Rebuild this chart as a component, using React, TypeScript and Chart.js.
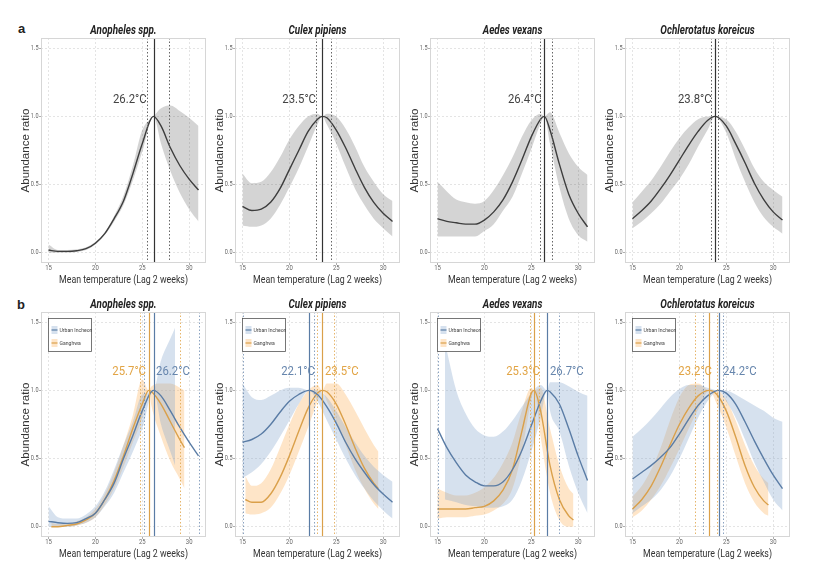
import { useEffect, useRef } from "react";
import { Chart, registerables } from "chart.js";
Chart.register(...registerables);

const COND = "Roboto, 'Liberation Sans', sans-serif";
const SANS = "'Liberation Sans', Arial, sans-serif";

const X_MIN = 14.2;
const X_MAX = 31.8;
const Y_MIN = -0.075;
const Y_MAX = 1.575;
const xTickValues = [15, 20, 25, 30];
const yTickValues = [0, 0.5, 1, 1.5];
const speciesNames = ["Anopheles spp.", "Culex pipiens", "Aedes vexans", "Ochlerotatus koreicus"];
const regionNames = ["Urban Incheon", "Ganghwa"];
const xTitle = "Mean temperature (Lag 2 weeks)";
const yTitle = "Abundance ratio";

// ---------- Row a: all sites ----------
const anoAllT = [15, 16, 17, 18, 19, 20, 21, 22, 23, 24, 25, 26.2, 27, 28, 29, 30, 31];
const anoAllMean = [0.02, 0.01, 0.01, 0.015, 0.03, 0.07, 0.14, 0.25, 0.38, 0.58, 0.8, 1.0, 0.93, 0.77, 0.64, 0.54, 0.46];
const anoAllUpper = [0.06, 0.02, 0.02, 0.025, 0.04, 0.08, 0.15, 0.27, 0.42, 0.64, 0.9, 1.0, 1.06, 1.08, 1.04, 0.99, 0.93];
const anoAllLower = [0.0, 0.0, 0.0, 0.005, 0.02, 0.06, 0.13, 0.23, 0.35, 0.53, 0.74, 1.0, 0.8, 0.6, 0.44, 0.32, 0.23];

const culAllT = [15, 16, 17, 18, 19, 20, 21, 22, 23, 23.5, 24, 25, 26, 27, 28, 29, 30, 31];
const culAllMean = [0.34, 0.31, 0.32, 0.37, 0.47, 0.61, 0.75, 0.89, 0.98, 1.0, 0.99, 0.9, 0.77, 0.62, 0.48, 0.37, 0.29, 0.23];
const culAllUpper = [0.58, 0.51, 0.52, 0.59, 0.7, 0.83, 0.93, 1.0, 1.02, 1.0, 1.02, 1.0, 0.91, 0.78, 0.63, 0.52, 0.43, 0.38];
const culAllLower = [0.2, 0.19, 0.2, 0.25, 0.35, 0.48, 0.62, 0.78, 0.94, 1.0, 0.94, 0.8, 0.63, 0.47, 0.35, 0.25, 0.18, 0.12];

const aedAllT = [15, 16, 17, 18, 19, 20, 21, 22, 23, 24, 25, 26, 26.4, 27, 28, 29, 30, 31];
const aedAllMean = [0.25, 0.23, 0.22, 0.21, 0.21, 0.24, 0.3, 0.39, 0.52, 0.68, 0.85, 0.98, 1.0, 0.9, 0.65, 0.43, 0.29, 0.19];
const aedAllUpper = [0.52, 0.45, 0.39, 0.37, 0.36, 0.38, 0.46, 0.57, 0.7, 0.85, 0.97, 1.02, 1.0, 1.03, 0.88, 0.73, 0.63, 0.57];
const aedAllLower = [0.12, 0.12, 0.12, 0.12, 0.12, 0.16, 0.21, 0.31, 0.41, 0.58, 0.76, 0.95, 1.0, 0.8, 0.48, 0.25, 0.13, 0.08];

const ochAllT = [15, 16, 17, 18, 19, 20, 21, 22, 23, 23.8, 25, 26, 27, 28, 29, 30, 31];
const ochAllMean = [0.25, 0.31, 0.38, 0.47, 0.57, 0.68, 0.79, 0.89, 0.97, 1.0, 0.93, 0.8, 0.66, 0.51, 0.39, 0.3, 0.24];
const ochAllUpper = [0.37, 0.45, 0.53, 0.63, 0.74, 0.84, 0.92, 0.98, 1.0, 1.0, 0.98, 0.89, 0.76, 0.62, 0.52, 0.46, 0.41];
const ochAllLower = [0.18, 0.23, 0.29, 0.36, 0.45, 0.54, 0.65, 0.78, 0.9, 1.0, 0.88, 0.69, 0.52, 0.37, 0.26, 0.19, 0.14];

const allOptimum = [26.2, 23.5, 26.4, 23.8];
const allCI = [[25.5, 27.8], [22.8, 24.4], [25.9, 27.2], [23.4, 24.1]];
const allLabelEdge = [25.47, 22.84, 26.11, 23.45];

// ---------- Row b: Urban Incheon ----------
const anoUrbT = [15, 16, 17, 18, 19, 20, 21, 22, 23, 24, 25, 26.2, 27, 28, 29, 30, 31];
const anoUrbMean = [0.04, 0.03, 0.025, 0.03, 0.06, 0.1, 0.2, 0.32, 0.5, 0.67, 0.85, 1.0, 0.96, 0.85, 0.73, 0.62, 0.52];
const anoUrbBandT = [15, 16, 17, 18, 19, 20, 21, 22, 23, 24, 25, 26.2, 27, 28, 28.5];
const anoUrbUpper = [0.15, 0.07, 0.06, 0.06, 0.09, 0.15, 0.26, 0.42, 0.6, 0.77, 0.97, 1.0, 1.22, 1.38, 1.46];
const anoUrbLower = [0.0, 0.0, 0.0, 0.01, 0.03, 0.07, 0.15, 0.25, 0.4, 0.55, 0.72, 1.0, 0.75, 0.55, 0.45];

const culUrbT = [15, 16, 17, 18, 19, 20, 21, 22.1, 23, 24, 25, 26, 27, 28, 29, 30, 31];
const culUrbMean = [0.62, 0.64, 0.68, 0.75, 0.84, 0.92, 0.97, 1.0, 0.97, 0.88, 0.76, 0.62, 0.5, 0.4, 0.31, 0.24, 0.18];
const culUrbUpper = [1.05, 0.95, 0.93, 0.96, 1.0, 1.02, 1.02, 1.0, 1.0, 0.95, 0.85, 0.73, 0.62, 0.52, 0.44, 0.38, 0.33];
const culUrbLower = [0.36, 0.4, 0.46, 0.55, 0.66, 0.78, 0.9, 1.0, 0.92, 0.78, 0.64, 0.5, 0.38, 0.28, 0.19, 0.12, 0.06];

const aedUrbT = [15, 16, 17, 18, 19, 20, 21, 22, 23, 24, 25, 26, 26.7, 27, 28, 29, 30, 31];
const aedUrbMean = [0.72, 0.58, 0.47, 0.38, 0.33, 0.3, 0.3, 0.33, 0.42, 0.56, 0.74, 0.92, 1.0, 0.99, 0.9, 0.72, 0.52, 0.34];
const aedUrbBandT = [15.8, 17, 18, 19, 20, 21, 22, 23, 24, 25, 26, 26.7, 27, 28, 29, 30, 31];
const aedUrbUpper = [1.35, 1.0, 0.83, 0.72, 0.67, 0.66, 0.7, 0.78, 0.88, 0.98, 1.04, 1.0, 1.06, 1.06, 1.03, 0.99, 0.96];
const aedUrbLower = [0.2, 0.18, 0.16, 0.15, 0.14, 0.14, 0.15, 0.2, 0.34, 0.55, 0.8, 1.0, 0.85, 0.7, 0.45, 0.25, 0.1];

const ochUrbT = [15, 16, 17, 18, 19, 20, 21, 22, 23, 24.2, 25, 26, 27, 28, 29, 30, 31];
const ochUrbMean = [0.35, 0.4, 0.45, 0.51, 0.58, 0.68, 0.79, 0.89, 0.96, 1.0, 0.98, 0.9, 0.77, 0.63, 0.5, 0.38, 0.28];
const ochUrbUpper = [0.66, 0.72, 0.79, 0.87, 0.95, 1.01, 1.04, 1.04, 1.02, 1.0, 1.0, 0.97, 0.93, 0.89, 0.85, 0.8, 0.77];
const ochUrbLower = [0.1, 0.15, 0.2, 0.27, 0.37, 0.5, 0.65, 0.8, 0.92, 1.0, 0.92, 0.8, 0.64, 0.47, 0.33, 0.2, 0.12];

// ---------- Row b: Ganghwa ----------
const anoGanT = [15.3, 16, 17, 18, 19, 20, 21, 22, 23, 24, 25, 25.7, 26, 27, 28, 29, 29.5];
const anoGanMean = [0.0, 0.0, 0.01, 0.02, 0.05, 0.1, 0.2, 0.34, 0.52, 0.72, 0.9, 1.0, 0.99, 0.9, 0.77, 0.64, 0.58];
const anoGanUpper = [0.03, 0.02, 0.02, 0.04, 0.07, 0.13, 0.24, 0.4, 0.6, 0.82, 1.08, 1.0, 1.03, 1.05, 1.05, 1.02, 1.0];
const anoGanLower = [0.0, 0.0, 0.0, 0.01, 0.03, 0.07, 0.16, 0.28, 0.44, 0.62, 0.8, 1.0, 0.88, 0.66, 0.48, 0.35, 0.28];

const culGanT = [15.3, 16, 17, 18, 19, 20, 21, 22, 23, 23.5, 24, 25, 26, 27, 28, 29, 29.5];
const culGanMean = [0.2, 0.18, 0.18, 0.24, 0.36, 0.52, 0.7, 0.87, 0.98, 1.0, 0.99, 0.9, 0.75, 0.58, 0.43, 0.32, 0.28];
const culGanUpper = [0.37, 0.3, 0.32, 0.42, 0.58, 0.75, 0.9, 1.0, 1.04, 1.0, 1.05, 1.05, 0.97, 0.85, 0.72, 0.6, 0.55];
const culGanLower = [0.1, 0.09, 0.1, 0.14, 0.24, 0.38, 0.55, 0.73, 0.92, 1.0, 0.92, 0.78, 0.6, 0.42, 0.28, 0.17, 0.13];

const aedGanT = [15, 16, 17, 18, 19, 20, 21, 22, 23, 24, 25, 25.3, 26, 27, 28, 29, 29.5];
const aedGanMean = [0.13, 0.13, 0.13, 0.13, 0.14, 0.15, 0.19, 0.27, 0.42, 0.7, 0.98, 1.0, 0.85, 0.45, 0.2, 0.08, 0.05];
const aedGanUpper = [0.28, 0.25, 0.23, 0.23, 0.25, 0.29, 0.36, 0.47, 0.62, 0.85, 1.02, 1.0, 1.02, 0.72, 0.45, 0.28, 0.24];
const aedGanLower = [0.06, 0.07, 0.07, 0.07, 0.08, 0.09, 0.12, 0.17, 0.28, 0.55, 0.93, 1.0, 0.66, 0.25, 0.05, 0.0, 0.0];

const ochGanT = [15, 16, 17, 18, 19, 20, 21, 22, 23.2, 24, 25, 26, 27, 28, 29, 29.5];
const ochGanMean = [0.13, 0.2, 0.3, 0.44, 0.6, 0.75, 0.87, 0.96, 1.0, 0.97, 0.85, 0.66, 0.45, 0.29, 0.19, 0.16];
const ochGanUpper = [0.22, 0.3, 0.42, 0.58, 0.78, 0.95, 1.04, 1.05, 1.0, 1.0, 0.93, 0.78, 0.6, 0.45, 0.35, 0.32];
const ochGanLower = [0.07, 0.12, 0.2, 0.3, 0.43, 0.57, 0.72, 0.86, 1.0, 0.9, 0.73, 0.52, 0.32, 0.18, 0.1, 0.08];

const urbanOptimum = [26.2, 22.1, 26.7, 24.2];
const ganghwaOptimum = [25.7, 23.5, 25.3, 23.2];
const urbanCI = [[25.2, 31.0], [15.0, 22.6], [15.0, 28.0], [22.5, 24.6]];
const ganghwaCI = [[24.8, 29.0], [22.9, 24.8], [24.85, 25.8], [21.7, 24.0]];
const bLeftLabelEdge = [25.4, 22.73, 25.93, 23.48];
const bRightLabelEdge = [26.47, 23.8, 27.0, 24.65];

// ---------- styling ----------
const GREY_LINE = "#3d3d3d";
const GREY_FILL = "rgba(0,0,0,0.17)";
const BLUE_LINE = "#5a7ca5";
const BLUE_FILL = "rgba(134,167,204,0.34)";
const BLUE_TEXT = "#6786ad";
const BLUE_DOT = "rgba(100,132,172,0.75)";
const ORANGE_LINE = "#daa04a";
const ORANGE_FILL = "rgba(252,180,95,0.34)";
const ORANGE_TEXT = "#e2a546";
const ORANGE_DOT = "rgba(226,168,80,0.85)";

const plotLefts = [41, 235, 430, 625];
const rowTops = [0, 274];
const CANVAS_W = 196;
const CANVAS_H = 290;
const Y_AXIS_W = 30;
const X_AXIS_H = 27;

type Curve = {
  t: number[];
  mean: number[];
  bandT: number[];
  upper: number[];
  lower: number[];
  line: string;
  fill: string;
  name: string;
};
type VLine = { x: number; color: string; dotted: boolean };
type TLabel = { text: string; x: number; y: number; align: "left" | "right"; color: string };
type PanelSpec = {
  left: number;
  top: number;
  title: string;
  curves: Curve[];
  vlines: VLine[];
  labels: TLabel[];
  legend: boolean;
};

const pts = (t: number[], v: number[]) => t.map((x, i) => ({ x, y: v[i] }));
const tempLabel = (v: number) => `${v.toFixed(1)}°C`;

function drawText(
  ctx: CanvasRenderingContext2D,
  text: string,
  x: number,
  y: number,
  font: string,
  color: string,
  align: CanvasTextAlign,
  sx = 1,
  rot = 0
) {
  ctx.save();
  ctx.translate(x, y);
  if (rot) ctx.rotate(rot);
  ctx.scale(sx, 1);
  ctx.font = font;
  ctx.fillStyle = color;
  ctx.textAlign = align;
  ctx.textBaseline = "middle";
  ctx.fillText(text, 0, 0);
  ctx.restore();
}

function Panel({ spec }: { spec: PanelSpec }) {
  const ref = useRef<HTMLCanvasElement | null>(null);
  useEffect(() => {
    const canvas = ref.current;
    if (!canvas) return;
    const datasets: any[] = [];
    spec.curves.forEach((c) => {
      datasets.push({
        data: pts(c.bandT, c.upper),
        borderWidth: 0,
        borderColor: "rgba(0,0,0,0)",
        backgroundColor: c.fill,
        pointRadius: 0,
        fill: "+1",
        cubicInterpolationMode: "monotone",
        order: 3,
      });
      datasets.push({
        data: pts(c.bandT, c.lower),
        borderWidth: 0,
        borderColor: "rgba(0,0,0,0)",
        backgroundColor: "rgba(0,0,0,0)",
        pointRadius: 0,
        fill: false,
        cubicInterpolationMode: "monotone",
        order: 3,
      });
    });
    spec.curves.forEach((c) => {
      datasets.push({
        data: pts(c.t, c.mean),
        borderColor: c.line,
        borderWidth: 1.4,
        pointRadius: 0,
        fill: false,
        cubicInterpolationMode: "monotone",
        order: 1,
      });
    });

    const deco = {
      id: "deco",
      afterDatasetsDraw(chart: any) {
        const { ctx, chartArea: a, scales } = chart;
        const xs = scales.x;
        const ys = scales.y;
        ctx.save();
        ctx.beginPath();
        ctx.rect(a.left, a.top, a.right - a.left, a.bottom - a.top);
        ctx.clip();
        spec.vlines.forEach((v) => {
          const px = Math.round(xs.getPixelForValue(v.x)) + 0.5;
          ctx.beginPath();
          ctx.strokeStyle = v.color;
          ctx.lineWidth = v.dotted ? 1 : 1.2;
          ctx.setLineDash(v.dotted ? [1.5, 2] : []);
          ctx.moveTo(px, a.top);
          ctx.lineTo(px, a.bottom);
          ctx.stroke();
        });
        ctx.restore();

        ctx.save();
        ctx.strokeStyle = "#d6d6d6";
        ctx.lineWidth = 1;
        ctx.strokeRect(a.left + 0.5, a.top + 0.5, a.right - a.left - 1, a.bottom - a.top - 1);
        ctx.restore();

        spec.labels.forEach((l) => {
          drawText(ctx, l.text, xs.getPixelForValue(l.x), ys.getPixelForValue(l.y), `13.5px ${COND}`, l.color, l.align, 0.84);
        });

        if (spec.legend) {
          ctx.save();
          const bx = a.left + 7.5;
          const by = a.top + 6.5;
          const bw = 43;
          const bh = 33;
          ctx.fillStyle = "#ffffff";
          ctx.fillRect(bx, by, bw, bh);
          ctx.strokeStyle = "#555";
          ctx.lineWidth = 0.8;
          ctx.strokeRect(bx, by, bw, bh);
          spec.curves.forEach((c, i) => {
            const cy = by + 11.5 + i * 13;
            ctx.fillStyle = c.fill;
            ctx.fillRect(bx + 3, cy - 4, 6, 8);
            ctx.strokeStyle = c.line;
            ctx.lineWidth = 1.2;
            ctx.beginPath();
            ctx.moveTo(bx + 3, cy);
            ctx.lineTo(bx + 9, cy);
            ctx.stroke();
            drawText(ctx, c.name, bx + 11, cy, `6px ${COND}`, "#444", "left", 0.85);
          });
          ctx.restore();
        }
      },
      afterDraw(chart: any) {
        const { ctx, chartArea: a, scales } = chart;
        const xs = scales.x;
        const ys = scales.y;
        const cx = (a.left + a.right) / 2;
        drawText(ctx, spec.title, cx, a.top - 7, `italic bold 12px ${COND}`, "#222", "center", 0.82);
        xTickValues.forEach((v) => {
          drawText(ctx, String(v), xs.getPixelForValue(v), a.bottom + 5.5, `7px ${COND}`, "#666", "center", 0.85);
        });
        yTickValues.forEach((v) => {
          drawText(ctx, v.toFixed(1), a.left - 2.5, ys.getPixelForValue(v), `6.5px ${COND}`, "#666", "right", 0.85);
        });
        drawText(ctx, xTitle, cx, a.bottom + 17, `11px ${COND}`, "#333", "center", 0.8);
        drawText(ctx, yTitle, a.left - 15.5, (a.top + a.bottom) / 2, `11.5px ${SANS}`, "#333", "center", 1, -Math.PI / 2);
      },
    };

    const chart = new Chart(canvas, {
      type: "line",
      data: { datasets },
      options: {
        animation: false,
        responsive: false,
        devicePixelRatio: 1,
        layout: { padding: { left: 0, right: CANVAS_W - Y_AXIS_W - 165, top: 38, bottom: 0 } },
        plugins: {
          legend: { display: false },
          tooltip: { enabled: false },
          title: { display: false },
          filler: { drawTime: "beforeDatasetsDraw" },
        },
        scales: {
          x: {
            type: "linear",
            min: X_MIN,
            max: X_MAX,
            afterBuildTicks: (s: any) => {
              s.ticks = xTickValues.map((v) => ({ value: v }));
            },
            afterFit: (s: any) => {
              s.height = X_AXIS_H;
            },
            ticks: { display: false },
            grid: { color: "#dddddd", lineWidth: 0.8, tickLength: 2, tickColor: "#999" },
            border: { display: false, dash: [2, 2] },
            title: { display: false },
          },
          y: {
            type: "linear",
            min: Y_MIN,
            max: Y_MAX,
            afterBuildTicks: (s: any) => {
              s.ticks = yTickValues.map((v) => ({ value: v }));
            },
            afterFit: (s: any) => {
              s.width = Y_AXIS_W;
            },
            ticks: { display: false },
            grid: { color: "#dddddd", lineWidth: 0.8, tickLength: 2, tickColor: "#999" },
            border: { display: false, dash: [2, 2] },
            title: { display: false },
          },
        },
      },
      plugins: [deco],
    } as any);
    return () => chart.destroy();
  }, [spec]);

  return (
    <canvas
      ref={ref}
      width={CANVAS_W}
      height={CANVAS_H}
      style={{ position: "absolute", left: spec.left, top: spec.top, width: CANVAS_W, height: CANVAS_H }}
    />
  );
}

const allT = [anoAllT, culAllT, aedAllT, ochAllT];
const allMean = [anoAllMean, culAllMean, aedAllMean, ochAllMean];
const allUpper = [anoAllUpper, culAllUpper, aedAllUpper, ochAllUpper];
const allLower = [anoAllLower, culAllLower, aedAllLower, ochAllLower];
const urbT = [anoUrbT, culUrbT, aedUrbT, ochUrbT];
const urbMean = [anoUrbMean, culUrbMean, aedUrbMean, ochUrbMean];
const urbBandT = [anoUrbBandT, culUrbT, aedUrbBandT, ochUrbT];
const urbUpper = [anoUrbUpper, culUrbUpper, aedUrbUpper, ochUrbUpper];
const urbLower = [anoUrbLower, culUrbLower, aedUrbLower, ochUrbLower];
const ganT = [anoGanT, culGanT, aedGanT, ochGanT];
const ganMean = [anoGanMean, culGanMean, aedGanMean, ochGanMean];
const ganUpper = [anoGanUpper, culGanUpper, aedGanUpper, ochGanUpper];
const ganLower = [anoGanLower, culGanLower, aedGanLower, ochGanLower];

const rowA: PanelSpec[] = speciesNames.map((title, i) => ({
  left: plotLefts[i] - Y_AXIS_W,
  top: rowTops[0],
  title,
  curves: [
    {
      t: allT[i],
      mean: allMean[i],
      bandT: allT[i],
      upper: allUpper[i],
      lower: allLower[i],
      line: GREY_LINE,
      fill: GREY_FILL,
      name: "",
    },
  ],
  vlines: [
    ...allCI[i].map((x) => ({ x, color: "#666", dotted: true })),
    { x: allOptimum[i], color: "#333", dotted: false },
  ],
  labels: [{ text: tempLabel(allOptimum[i]), x: allLabelEdge[i], y: 1.12, align: "right" as const, color: "#444" }],
  legend: false,
}));

const rowB: PanelSpec[] = speciesNames.map((title, i) => {
  const urbanLeft = urbanOptimum[i] < ganghwaOptimum[i];
  const uLabel: TLabel = {
    text: tempLabel(urbanOptimum[i]),
    x: urbanLeft ? bLeftLabelEdge[i] : bRightLabelEdge[i],
    y: 1.135,
    align: urbanLeft ? "right" : "left",
    color: BLUE_TEXT,
  };
  const gLabel: TLabel = {
    text: tempLabel(ganghwaOptimum[i]),
    x: urbanLeft ? bRightLabelEdge[i] : bLeftLabelEdge[i],
    y: 1.135,
    align: urbanLeft ? "left" : "right",
    color: ORANGE_TEXT,
  };
  return {
    left: plotLefts[i] - Y_AXIS_W,
    top: rowTops[1],
    title,
    curves: [
      {
        t: urbT[i],
        mean: urbMean[i],
        bandT: urbBandT[i],
        upper: urbUpper[i],
        lower: urbLower[i],
        line: BLUE_LINE,
        fill: BLUE_FILL,
        name: regionNames[0],
      },
      {
        t: ganT[i],
        mean: ganMean[i],
        bandT: ganT[i],
        upper: ganUpper[i],
        lower: ganLower[i],
        line: ORANGE_LINE,
        fill: ORANGE_FILL,
        name: regionNames[1],
      },
    ],
    vlines: [
      ...urbanCI[i].map((x) => ({ x, color: BLUE_DOT, dotted: true })),
      ...ganghwaCI[i].map((x) => ({ x, color: ORANGE_DOT, dotted: true })),
      { x: urbanOptimum[i], color: BLUE_LINE, dotted: false },
      { x: ganghwaOptimum[i], color: ORANGE_LINE, dotted: false },
    ],
    labels: [uLabel, gLabel],
    legend: true,
  };
});

const panels = [...rowA, ...rowB];

export default function App() {
  return (
    <div
      style={{
        position: "absolute",
        left: 0,
        top: 0,
        width: 834,
        height: 571,
        background: "#ffffff",
        overflow: "hidden",
      }}
    >
      <div style={{ position: "absolute", left: 18, top: 21, font: `bold 13px ${SANS}`, color: "#222" }}>a</div>
      <div style={{ position: "absolute", left: 17, top: 297, font: `bold 13px ${SANS}`, color: "#222" }}>b</div>
      {panels.map((p, i) => (
        <Panel key={i} spec={p} />
      ))}
    </div>
  );
}
